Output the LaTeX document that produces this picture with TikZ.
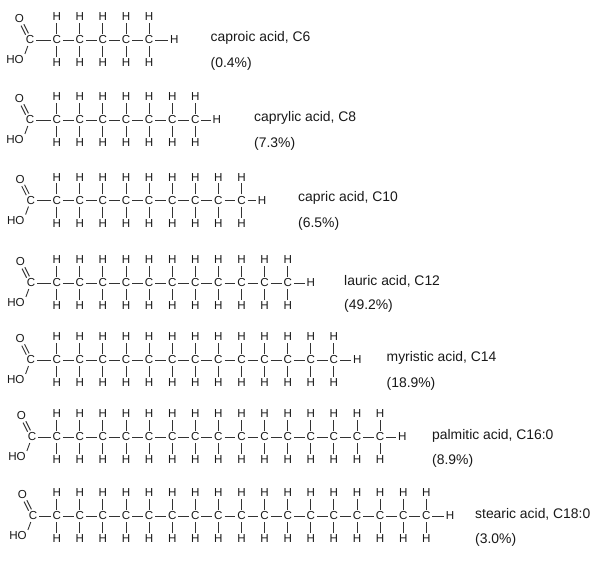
\documentclass[tikz,border=0pt]{standalone}
\usepackage{fontspec}
\setmainfont{Liberation Sans}
\tikzset{
  atom/.style={inner sep=0.6pt,font=\fontsize{11.6}{11.6}\selectfont,text=black!90},
  lbl/.style={inner sep=0pt,anchor=west,font=\fontsize{13.9}{13.9}\selectfont,text=black!90},
  bond/.style={line width=0.9pt,black!80,shorten >=1.2pt,shorten <=1.2pt}
}
\newcommand{\hEndX}{0}
% #1 id, #2 carboxyl x, #3 y, #4 n of chain carbons, #5 name, #6 pct, #7 label x, #8 name y, #9 pct y
\newcommand{\acid}[9]{%
  \node[atom] (#1c) at (#2,#3) {C};
  \node[atom] (#1o) at (#2-10.5,#3-21) {O};
  \node[atom] (#1ho) at (#2-15,#3+20) {HO};
  \draw[bond,transform canvas={shift={(-1.4pt,-0.7pt)}}] (#1c) -- (#1o);
  \draw[bond,transform canvas={shift={(1.4pt,0.7pt)}}] (#1c) -- (#1o);
  \draw[bond] (#1c) -- (#1ho.north east);
  \foreach \i in {1,...,#4}{
    \pgfmathsetmacro{\cx}{56.7+23.1*(\i-1)}
    \node[atom] (#1c\i) at (\cx,#3) {C};
    \node[atom] (#1t\i) at (\cx,#3-23) {H};
    \node[atom] (#1b\i) at (\cx,#3+23) {H};
    \draw[bond] (#1c\i) -- (#1t\i);
    \draw[bond] (#1c\i) -- (#1b\i);
  }
  \draw[bond] (#1c) -- (#1c1);
  \foreach \i [remember=\i as \p (initially 1)] in {2,...,#4}{
    \draw[bond] (#1c\p) -- (#1c\i);
  }
  \node[atom] (#1e) at (\hEndX,#3) {H};
  \draw[bond] (#1c#4) -- (#1e);
  \node[lbl] (#1n) at (#7,#8) {#5};
  \node[lbl] (#1p) at (#7,#9) {#6};
}
\begin{document}
\begin{tikzpicture}[x=1pt,y=-1pt]
\useasboundingbox (0,0) rectangle (600,561);
\fill[white] (0,0) rectangle (600,561);
\renewcommand{\hEndX}{174.3}
\acid{a}{30}{40}{5}{caproic acid, C6}{(0.4\%)}{210.5}{38.3}{63.5}
\renewcommand{\hEndX}{216.7}
\acid{b}{30}{120}{7}{caprylic acid, C8}{(7.3\%)}{254}{118}{143.5}
\renewcommand{\hEndX}{262}
\acid{c}{30.7}{200.5}{9}{capric acid, C10}{(6.5\%)}{298}{198.3}{224}
\renewcommand{\hEndX}{310.7}
\acid{d}{31}{283}{11}{lauric acid, C12}{(49.2\%)}{344}{281.5}{306}
\renewcommand{\hEndX}{357.3}
\acid{e}{30.7}{360}{13}{myristic acid, C14}{(18.9\%)}{386.5}{358}{383.5}
\renewcommand{\hEndX}{402.3}
\acid{f}{32}{437}{15}{palmitic acid, C16:0}{(8.9\%)}{432}{435.5}{460.5}
\renewcommand{\hEndX}{450}
\acid{g}{33}{516}{17}{stearic acid, C18:0}{(3.0\%)}{475}{514}{539.5}
\end{tikzpicture}
\end{document}
